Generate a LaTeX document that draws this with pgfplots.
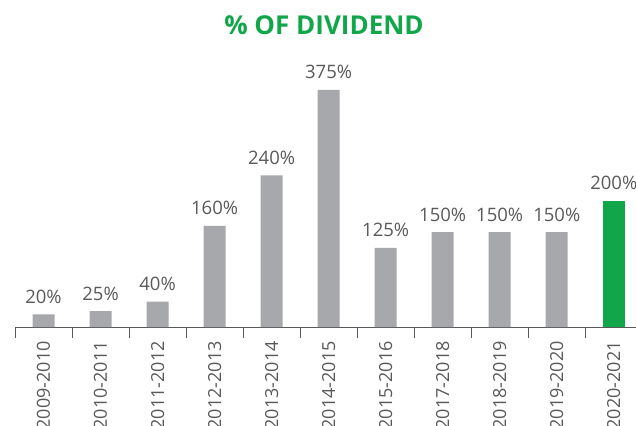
\documentclass[border=0pt]{standalone}
\usepackage{fontspec}
\setmainfont{Open Sans}
\usepackage{pgfplots}
\pgfplotsset{compat=1.18}
\definecolor{dgreen}{HTML}{12A64B}
\definecolor{bargray}{HTML}{A7A8AC}
\definecolor{txtgray}{HTML}{595959}
\begin{document}
\begin{tikzpicture}
\begin{axis}[
  at={(15pt,98pt)}, anchor=south west,
  scale only axis, width=621pt, height=237pt,
  xmin=-0.5, xmax=10.39, ymin=0, ymax=375,
  axis x line*=bottom, axis y line=none,
  x axis line style={txtgray, line width=1pt},
  /pgf/number format/assume math mode=true,
  ytick=\empty,
  xtick={0,...,10},
  xticklabels={2009-2010,2010-2011,2011-2012,2012-2013,2013-2014,2014-2015,2015-2016,2017-2018,2018-2019,2019-2020,2020-2021},
  major tick length=0pt,
  xticklabel shift=14pt,
  xticklabel style={inner sep=0pt, anchor=east, rotate=90,
    font=\fontsize{18}{20}\selectfont, text=txtgray},
  extra x ticks={-0.5,0.5,...,9.5},
  extra x tick labels={},
  extra x tick style={major tick length=11pt, tick align=outside,
    tick style={txtgray, line width=1pt}},
  ybar, bar width=22pt, bar shift=0pt,
  clip=false,
  nodes near coords={\pgfmathprintnumber{\pgfplotspointmeta}\%},
  every node near coord/.append style={anchor=base, inner sep=0pt, yshift=11pt,
    font=\fontsize{18.5}{20}\selectfont, text=txtgray},
]
\addplot[fill=bargray, draw=none] coordinates {(0,20) (1,25) (2,40) (3,160) (4,240) (5,375) (6,125) (7,150) (8,150) (9,150)};
\addplot[fill=dgreen, draw=none] coordinates {(10,200)};
\end{axis}
\node[font=\fontsize{26}{30}\selectfont\bfseries, text=dgreen] at (324pt,400pt) {\% OF DIVIDEND};
\pgfresetboundingbox
\path[use as bounding box] (0,0) rectangle (636pt,425pt);
\end{tikzpicture}
\end{document}
